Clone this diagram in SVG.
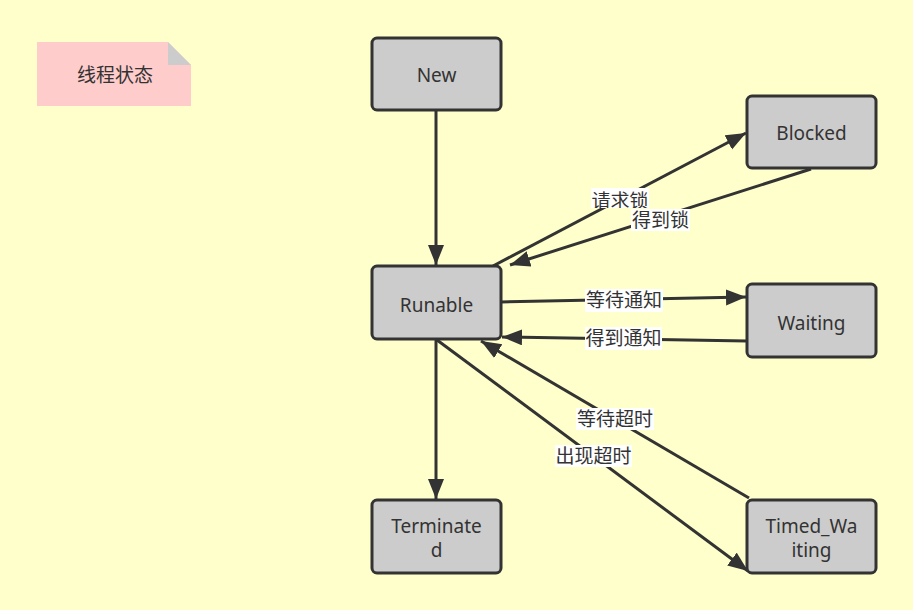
<svg xmlns="http://www.w3.org/2000/svg" width="913" height="610" viewBox="0 0 913 610">
<style>
.node rect{fill:#cccccc;stroke:#333333;stroke-width:3}
.nt{font-family:"Noto Sans","Noto Sans CJK SC",sans-serif;font-size:19px;fill:#333333;text-anchor:middle}
.edge{stroke:#333333;stroke-width:3;fill:none;marker-end:url(#arr)}
.lbg{fill:#ffffff}
.lt{font-family:"Noto Sans CJK SC","Noto Sans",sans-serif;font-size:19px;fill:#333333;text-anchor:middle}
</style>
<defs>
<marker id="arr" markerUnits="userSpaceOnUse" markerWidth="22" markerHeight="18" refX="20" refY="8" orient="auto">
<path d="M0,0 L20,8 L0,16 z" fill="#333333"/>
</marker>
<clipPath id="c1"><rect x="590" y="186" width="60" height="22"/></clipPath>
</defs>
<rect x="0" y="0" width="913" height="610" fill="#ffffcc"/>
<g id="note">
<path d="M37,42 L168,42 L191,65 L191,106 L37,106 z" fill="#ffcccc"/>
<path d="M168,42 L191,65 L168,65 z" fill="#cccccc"/>
<text class="lt" x="115" y="82">线程状态</text>
</g>
<g id="connectors">
<line class="edge" x1="436" y1="111" x2="436" y2="265"/>
<line class="edge" x1="493" y1="266" x2="746" y2="133"/>
<line class="edge" x1="811" y1="169" x2="510" y2="265"/>
<line class="edge" x1="501" y1="302" x2="746" y2="297"/>
<line class="edge" x1="747" y1="341" x2="502" y2="337"/>
<line class="edge" x1="436" y1="340" x2="436" y2="499"/>
<line class="edge" x1="437" y1="340" x2="748" y2="571"/>
<line class="edge" x1="749" y1="498" x2="481" y2="341"/>
<g id="labels">
<g clip-path="url(#c1)"><rect class="lbg" x="591" y="188" width="58" height="22"/><text class="lt" x="620" y="208">请求锁</text></g>
<rect class="lbg" x="631" y="209" width="59" height="22"/><text class="lt" x="660.5" y="227">得到锁</text>
<rect class="lbg" x="585" y="289" width="78" height="23"/><text class="lt" x="624" y="307">等待通知</text>
<rect class="lbg" x="585" y="327" width="77" height="23"/><text class="lt" x="623.5" y="345">得到通知</text>
<rect class="lbg" x="576" y="408" width="78" height="22"/><text class="lt" x="615" y="426">等待超时</text>
<rect class="lbg" x="555" y="445" width="77" height="22"/><text class="lt" x="593.5" y="463">出现超时</text>
</g>
</g>
<g id="New" class="node"><rect x="372" y="38" width="129" height="72" rx="5"/><text class="nt" x="436.5" y="82">New</text></g>
<g id="Blocked" class="node"><rect x="747" y="96" width="129" height="72" rx="5"/><text class="nt" x="811.5" y="140">Blocked</text></g>
<g id="Runable" class="node"><rect x="372" y="266" width="129" height="73" rx="5"/><text class="nt" x="436.5" y="312">Runable</text></g>
<g id="Waiting" class="node"><rect x="747" y="284" width="129" height="73" rx="5"/><text class="nt" x="811.5" y="330">Waiting</text></g>
<g id="Terminated" class="node"><rect x="372" y="500" width="129" height="73" rx="5"/><text class="nt" x="436.5" y="533">Terminate</text><text class="nt" x="436.5" y="557">d</text></g>
<g id="Timed_Waiting" class="node"><rect x="747" y="500" width="129" height="73" rx="5"/><text class="nt" x="811.5" y="533">Timed_Wa</text><text class="nt" x="811.5" y="557">iting</text></g>
</svg>
